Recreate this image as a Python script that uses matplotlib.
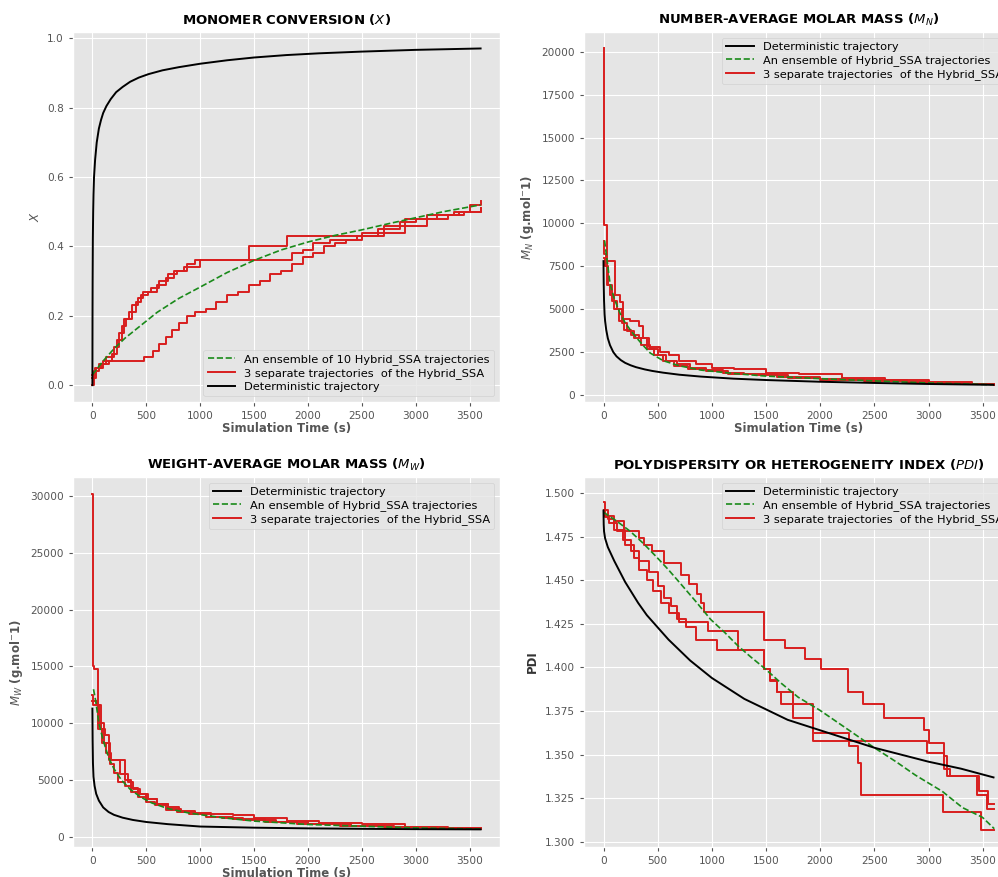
import matplotlib
matplotlib.use("Agg")
import matplotlib.pyplot as plt

plt.style.use("ggplot")
plt.rcParams['font.family'] = ['DejaVu Sans']

# ---------------- DATA ----------------
# Monomer conversion X
x_det_t = [0, 1, 2, 4, 7, 10, 15, 25, 40, 60, 80, 100, 130, 170, 220, 280, 350, 430, 520, 650, 800, 1000, 1250, 1500, 1800, 2100, 2500, 3000, 3600]
x_det_v = [0.0, 0.20, 0.30, 0.42, 0.50, 0.55, 0.60, 0.65, 0.70, 0.74, 0.765, 0.785, 0.805, 0.825, 0.845, 0.86, 0.875, 0.887, 0.897, 0.908, 0.917, 0.927, 0.937, 0.945, 0.952, 0.957, 0.962, 0.967, 0.971]
x_ens_t = [0, 50, 100, 200, 300, 400, 500, 600, 800, 1000, 1250, 1500, 1750, 2000, 2250, 2500, 2750, 3000, 3250, 3600]
x_ens_v = [0.03, 0.05, 0.07, 0.105, 0.135, 0.16, 0.185, 0.21, 0.25, 0.283, 0.325, 0.36, 0.39, 0.413, 0.432, 0.448, 0.466, 0.483, 0.50, 0.52]
x_r1_t = [0, 15, 60, 130, 200, 250, 290, 340, 400, 450, 520, 600, 680, 760, 850, 1000, 1150, 1450, 1800, 2300, 2500, 2700, 2900, 3100, 3350, 3500, 3600]
x_r1_v = [0.0, 0.04, 0.06, 0.08, 0.11, 0.15, 0.19, 0.21, 0.24, 0.26, 0.27, 0.29, 0.31, 0.33, 0.34, 0.36, 0.36, 0.40, 0.43, 0.43, 0.44, 0.46, 0.48, 0.49, 0.50, 0.52, 0.53]
x_r2_t = [0, 30, 100, 180, 230, 270, 310, 370, 420, 470, 540, 620, 700, 780, 880, 950, 1850, 1950, 2050, 2200, 2450, 2650, 2850, 3000, 3200, 3400, 3600]
x_r2_v = [0.02, 0.05, 0.07, 0.09, 0.13, 0.17, 0.19, 0.23, 0.25, 0.27, 0.28, 0.30, 0.32, 0.33, 0.35, 0.36, 0.38, 0.39, 0.41, 0.42, 0.43, 0.45, 0.47, 0.48, 0.49, 0.50, 0.51]
x_r3_t = [0, 20, 80, 150, 480, 560, 620, 680, 740, 800, 880, 950, 1050, 1150, 1250, 1350, 1450, 1550, 1650, 1750, 1850, 1950, 2050, 2150, 2250, 2350, 2500, 2700, 2900, 3100, 3300, 3450, 3600]
x_r3_v = [0.03, 0.05, 0.06, 0.07, 0.08, 0.10, 0.12, 0.14, 0.16, 0.18, 0.20, 0.21, 0.22, 0.24, 0.26, 0.27, 0.29, 0.30, 0.32, 0.33, 0.35, 0.37, 0.38, 0.40, 0.41, 0.42, 0.43, 0.44, 0.46, 0.48, 0.49, 0.50, 0.51]

# Number-average molar mass MN
mn_det_t = [0, 2, 5, 10, 15, 25, 40, 60, 90, 120, 160, 200, 250, 300, 380, 450, 550, 700, 900, 1200, 1500, 2000, 2500, 3000, 3600]
mn_det_v = [7800, 6500, 5500, 4700, 4300, 3800, 3300, 2900, 2500, 2250, 2030, 1870, 1730, 1620, 1490, 1400, 1300, 1180, 1070, 950, 870, 770, 700, 640, 590]
mn_ens_t = [10, 30, 60, 100, 150, 200, 270, 350, 430, 550, 700, 900, 1200, 1500, 2000, 2500, 3000, 3600]
mn_ens_v = [9000, 8000, 6500, 5600, 4800, 4200, 3600, 3000, 2450, 2000, 1700, 1450, 1250, 1100, 950, 820, 700, 600]
mn_r1_t = [0, 2, 4, 35, 60, 100, 140, 190, 250, 330, 400, 470, 550, 650, 780, 950, 1150, 1400, 1700, 2000, 2400, 2800, 3200, 3600]
mn_r1_v = [20200, 12000, 9900, 6400, 5800, 5000, 4300, 3800, 3500, 3300, 2700, 2300, 2000, 1700, 1500, 1400, 1250, 1150, 1000, 900, 800, 700, 620, 580]
mn_r2_t = [0, 5, 25, 110, 150, 180, 240, 330, 360, 420, 520, 600, 700, 850, 1000, 1200, 1500, 1800, 2200, 2600, 3000, 3400, 3600]
mn_r2_v = [9000, 8200, 7800, 5800, 5400, 4400, 4300, 4000, 3300, 2800, 2500, 2300, 2000, 1800, 1600, 1500, 1300, 1200, 1000, 850, 750, 650, 600]
mn_r3_t = [0, 10, 45, 80, 120, 170, 220, 280, 350, 430, 500, 580, 680, 800, 950, 1100, 1300, 1600, 2000, 2400, 2800, 3200, 3600]
mn_r3_v = [8000, 7500, 6400, 5500, 5000, 4200, 3700, 3300, 2900, 2700, 2300, 2000, 1800, 1600, 1450, 1300, 1200, 1050, 950, 850, 780, 650, 570]

# Weight-average molar mass MW
mw_det_t = [0, 2, 5, 10, 20, 35, 60, 100, 150, 200, 280, 375, 500, 700, 1000, 1500, 2000, 2500, 3000, 3600]
mw_det_v = [11300, 8500, 6500, 5300, 4500, 3800, 3200, 2600, 2200, 1950, 1700, 1500, 1320, 1130, 920, 820, 760, 720, 690, 670]
mw_ens_t = [10, 30, 60, 100, 150, 200, 270, 350, 450, 550, 700, 900, 1200, 1500, 2000, 2500, 3000, 3600]
mw_ens_v = [13000, 12000, 10000, 8500, 7000, 6000, 5000, 4200, 3500, 3000, 2500, 2100, 1700, 1400, 1100, 950, 800, 700]
mw_r1_t = [0, 2, 15, 55, 90, 130, 170, 230, 300, 360, 420, 500, 600, 700, 800, 950, 1100, 1300, 1500, 1800, 2100, 2500, 2900, 3300, 3600]
mw_r1_v = [30200, 15000, 14800, 9500, 8300, 7400, 6800, 6800, 5000, 4300, 3800, 3300, 2900, 2600, 2300, 2100, 2000, 1900, 1700, 1400, 1200, 1100, 900, 750, 700]
mw_r2_t = [0, 5, 40, 80, 120, 150, 200, 260, 330, 380, 440, 520, 600, 700, 820, 950, 1100, 1300, 1600, 1900, 2300, 2700, 3100, 3600]
mw_r2_v = [12500, 12000, 11600, 9500, 9000, 6800, 6800, 5500, 4800, 4200, 3800, 3300, 2900, 2500, 2200, 2000, 1800, 1600, 1300, 1100, 1000, 850, 750, 700]
mw_r3_t = [0, 10, 60, 110, 160, 200, 240, 300, 360, 420, 500, 580, 680, 780, 900, 1050, 1200, 1400, 1700, 2000, 2400, 2800, 3200, 3600]
mw_r3_v = [12000, 11600, 10000, 8300, 6400, 5600, 4800, 4500, 4000, 3500, 3100, 2800, 2400, 2200, 2000, 1800, 1700, 1500, 1300, 1100, 950, 850, 750, 700]

# Polydispersity index PDI
pdi_det_t = [0, 2, 5, 15, 40, 70, 100, 150, 200, 250, 320, 400, 500, 600, 700, 800, 900, 1000, 1150, 1300, 1500, 1700, 1900, 2100, 2300, 2500, 2750, 3000, 3300, 3600]
pdi_det_v = [1.490, 1.482, 1.478, 1.474, 1.469, 1.465, 1.461, 1.455, 1.449, 1.444, 1.437, 1.430, 1.423, 1.416, 1.410, 1.404, 1.399, 1.394, 1.388, 1.382, 1.376, 1.370, 1.366, 1.362, 1.358, 1.354, 1.350, 1.346, 1.342, 1.337]
pdi_ens_t = [0, 120, 248, 370, 495, 600, 712, 850, 990, 1120, 1238, 1360, 1486, 1640, 1796, 1997, 2260, 2500, 2700, 2879, 3127, 3313, 3498, 3607]
pdi_ens_v = [1.489, 1.484, 1.478, 1.471, 1.463, 1.456, 1.448, 1.438, 1.4275, 1.420, 1.4126, 1.406, 1.3996, 1.391, 1.383, 1.3755, 1.3643, 1.354, 1.346, 1.3383, 1.329, 1.3197, 1.3141, 1.3076]
pdi_r1_t = [0, 93, 186, 325, 372, 449, 557, 712, 789, 867, 898, 929, 1480, 1672, 1858, 2012, 2260, 2399, 2585, 2957, 3003, 3142, 3173, 3468, 3545, 3607]
pdi_r1_v = [1.487, 1.484, 1.478, 1.474, 1.470, 1.467, 1.460, 1.453, 1.448, 1.442, 1.437, 1.432, 1.416, 1.411, 1.405, 1.399, 1.386, 1.379, 1.371, 1.364, 1.357, 1.349, 1.338, 1.329, 1.322, 1.322]
pdi_r2_t = [0, 15, 40, 100, 200, 280, 330, 400, 460, 530, 600, 700, 960, 1238, 1480, 1540, 1600, 1640, 1930, 2270, 2350, 2380, 3130, 3480, 3607]
pdi_r2_v = [1.495, 1.490, 1.485, 1.479, 1.470, 1.463, 1.456, 1.450, 1.444, 1.437, 1.431, 1.426, 1.421, 1.410, 1.399, 1.393, 1.386, 1.379, 1.3625, 1.355, 1.345, 1.327, 1.317, 1.307, 1.307]
pdi_r3_t = [0, 10, 50, 120, 180, 250, 330, 420, 500, 560, 620, 680, 760, 850, 1050, 1480, 1540, 1600, 1750, 1930, 2990, 3140, 3200, 3450, 3540, 3607]
pdi_r3_v = [1.490, 1.486, 1.483, 1.478, 1.473, 1.467, 1.461, 1.455, 1.447, 1.440, 1.435, 1.428, 1.423, 1.416, 1.410, 1.399, 1.392, 1.386, 1.371, 1.358, 1.351, 1.342, 1.338, 1.327, 1.319, 1.319]

titles = ["MONOMER CONVERSION ($X$)", "NUMBER-AVERAGE MOLAR MASS ($M_N$)",
          "WEIGHT-AVERAGE MOLAR MASS ($M_W$)", "POLYDISPERSITY OR HETEROGENEITY INDEX ($PDI$)"]
lab_det = "Deterministic trajectory"
lab_ens10 = "An ensemble of 10 Hybrid_SSA trajectories"
lab_ens = "An ensemble of Hybrid_SSA trajectories"
lab_red = "3 separate trajectories  of the Hybrid_SSA"
xlabel = "Simulation Time (s)"

# ---------------- STYLE ----------------
RED = '#d81e1e'
GREEN = '#1a8a1a'
TICK_FS = 7.6
LEG_FS = 8.2
W, H = 998, 877
fig = plt.figure(figsize=(W / 100, H / 100), dpi=100)

def pos(l, t, w, h):
    return [l / W, 1 - (t + h) / H, w / W, h / H]

ax1 = fig.add_axes(pos(73, 32, 427, 370))
ax2 = fig.add_axes(pos(584, 32, 429, 370))
ax3 = fig.add_axes(pos(73, 477, 427, 370))
ax4 = fig.add_axes(pos(584, 477, 429, 370))

def style(ax, title):
    ax.set_xlim(-180, 3780)
    ax.set_xticks([0, 500, 1000, 1500, 2000, 2500, 3000, 3500])
    ax.tick_params(labelsize=TICK_FS, colors='#555555', length=3)
    ax.set_title(title, fontsize=9.5, fontweight='bold', color='black', pad=6)

def reds(ax, ts, vs):
    for i, (t, v) in enumerate(zip(ts, vs)):
        ax.plot(t, v, drawstyle='steps-post', color=RED, lw=1.4,
                label=lab_red if i == 0 else None, zorder=3)

def leg(ax, loc, **kw):
    ax.legend(loc=loc, fontsize=LEG_FS, handlelength=2.4, labelspacing=0.25,
              borderpad=0.4, **kw)

# Panel 1
ax1.plot(x_ens_t, x_ens_v, '--', color=GREEN, lw=1.2, label=lab_ens10, zorder=4)
reds(ax1, [x_r1_t, x_r2_t, x_r3_t], [x_r1_v, x_r2_v, x_r3_v])
ax1.plot(x_det_t, x_det_v, color='black', lw=1.4, label=lab_det, zorder=5)
style(ax1, titles[0])
ax1.set_ylim(-0.0485, 1.0185)
ax1.set_ylabel("$X$", fontsize=8.5, color='#555555')
ax1.set_xlabel(xlabel, fontsize=8.5, fontweight='bold', color='#555555', labelpad=1)
leg(ax1, 'lower right')

# Panel 2
ax2.plot(mn_det_t, mn_det_v, color='black', lw=1.4, label=lab_det, zorder=5)
ax2.plot(mn_ens_t, mn_ens_v, '--', color=GREEN, lw=1.2, label=lab_ens, zorder=4)
reds(ax2, [mn_r1_t, mn_r2_t, mn_r3_t], [mn_r1_v, mn_r2_v, mn_r3_v])
style(ax2, titles[1])
ax2.set_ylim(-410, 21150)
ax2.set_yticks([0, 2500, 5000, 7500, 10000, 12500, 15000, 17500, 20000])
ax2.set_ylabel("$M_N$ (g.mol$^{-}$1)", fontsize=8.5, fontweight='bold', color='#555555')
ax2.set_xlabel(xlabel, fontsize=8.5, fontweight='bold', color='#555555', labelpad=1)
leg(ax2, 'upper right', bbox_to_anchor=(1.0, 1.0))

# Panel 3
ax3.plot(mw_det_t, mw_det_v, color='black', lw=1.4, label=lab_det, zorder=5)
ax3.plot(mw_ens_t, mw_ens_v, '--', color=GREEN, lw=1.2, label=lab_ens, zorder=4)
reds(ax3, [mw_r1_t, mw_r2_t, mw_r3_t], [mw_r1_v, mw_r2_v, mw_r3_v])
style(ax3, titles[2])
ax3.set_ylim(-880, 31670)
ax3.set_yticks([0, 5000, 10000, 15000, 20000, 25000, 30000])
ax3.set_ylabel("$M_W$ (g.mol$^{-}$1)", fontsize=8.5, fontweight='bold', color='#555555')
ax3.set_xlabel(xlabel, fontsize=8.5, fontweight='bold', color='#555555', labelpad=1)
leg(ax3, 'upper right')

# Panel 4
ax4.plot(pdi_det_t, pdi_det_v, color='black', lw=1.4, label=lab_det, zorder=5)
ax4.plot(pdi_ens_t, pdi_ens_v, '--', color=GREEN, lw=1.2, label=lab_ens, zorder=4)
reds(ax4, [pdi_r1_t, pdi_r2_t, pdi_r3_t], [pdi_r1_v, pdi_r2_v, pdi_r3_v])
style(ax4, titles[3])
ax4.set_ylim(1.2971, 1.5092)
pdi_ticks = [1.300, 1.325, 1.350, 1.375, 1.400, 1.425, 1.450, 1.475, 1.500]
ax4.set_yticks(pdi_ticks)
ax4.set_yticklabels([f"{v:.3f}" for v in pdi_ticks])
ax4.set_ylabel("PDI", fontsize=8.5, fontweight='bold', color='#333333')
leg(ax4, 'upper right', bbox_to_anchor=(1.0, 1.0))

fig.savefig("out.png", dpi=100)
